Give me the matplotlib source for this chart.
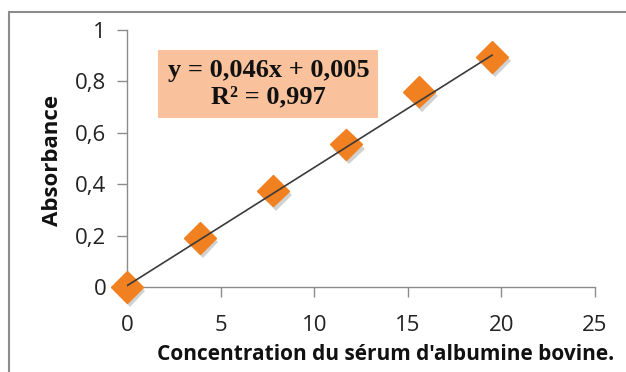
import matplotlib
matplotlib.use("Agg")
import matplotlib.pyplot as plt
from matplotlib.patches import Rectangle
import matplotlib.patheffects as pe

concentration = [0, 3.9, 7.8, 11.7, 15.6, 19.5]
absorbance = [0.0, 0.19, 0.375, 0.555, 0.76, 0.895]
slope = 0.046
intercept = 0.005
x_ticks = [0, 5, 10, 15, 20, 25]
y_ticks = [0, 0.2, 0.4, 0.6, 0.8, 1.0]
y_tick_labels = ["0", "0,2", "0,4", "0,6", "0,8", "1"]
x_tick_labels = ["0", "5", "10", "15", "20", "25"]
equation_text = "y = 0,046x + 0,005\nR² = 0,997"
xlabel = "Concentration du sérum d'albumine bovine."
ylabel = "Absorbance"

sans = ["Open Sans", "DejaVu Sans"]
serif = ["Liberation Serif", "DejaVu Serif"]

fig = plt.figure(figsize=(6.26, 3.72), dpi=100)
fig.patch.set_facecolor("white")
fig.patches.append(Rectangle((9/626, -0.1), 1.2, 1 - 12/372 + 0.1, transform=fig.transFigure,
                             fill=False, edgecolor="#8c8c8c", linewidth=1.5, zorder=0))

ax = fig.add_axes([127/626, 1 - 287/372, (595 - 127)/626, (287 - 30)/372])
ax.set_xlim(0, 25)
ax.set_ylim(0, 1)
for s in ["top", "right"]:
    ax.spines[s].set_visible(False)
for s in ["left", "bottom"]:
    ax.spines[s].set_color("#8c8c8c")
    ax.spines[s].set_linewidth(1.0)
ax.set_xticks(x_ticks)
ax.set_xticklabels(x_tick_labels)
ax.set_yticks(y_ticks)
ax.set_yticklabels(y_tick_labels)
ax.tick_params(axis="both", colors="#8c8c8c", labelcolor="#222222", labelsize=16, length=7, width=1)
ax.tick_params(axis="x", pad=13)
ax.tick_params(axis="y", pad=8)
for lab in ax.get_xticklabels() + ax.get_yticklabels():
    lab.set_family(sans)

# markers
ax.plot(concentration, absorbance, linestyle="none", marker="D", markersize=16,
        color="#f08020", markeredgecolor="#f08020", clip_on=False, zorder=3,
        path_effects=[pe.SimplePatchShadow(offset=(2, -3), shadow_rgbFace="#9a9a9a", alpha=0.45), pe.Normal()])

# trendline
xs = [concentration[0], concentration[-1]]
ys = [slope * x + intercept for x in xs]
ax.plot(xs, ys, color="#3a3a3a", linewidth=1.2, zorder=4)

ax.text(7.55, 0.79, equation_text, fontsize=19, fontweight="bold", family=serif,
        ha="center", va="center", linespacing=1.2, color="#111111",
        bbox=dict(boxstyle="square,pad=0.35", facecolor="#f9c29c", edgecolor="none"),
        transform=ax.transData, zorder=5)

fig.text(386/626, 1 - 355/372, xlabel, fontsize=15, fontweight="bold", family=sans,
         ha="center", va="center", color="#111111")
fig.text(52/626, 1 - 160/372, ylabel, fontsize=16, fontweight="bold", family=sans,
         ha="center", va="center", rotation=90, color="#111111")

fig.savefig("out.png", dpi=100)
